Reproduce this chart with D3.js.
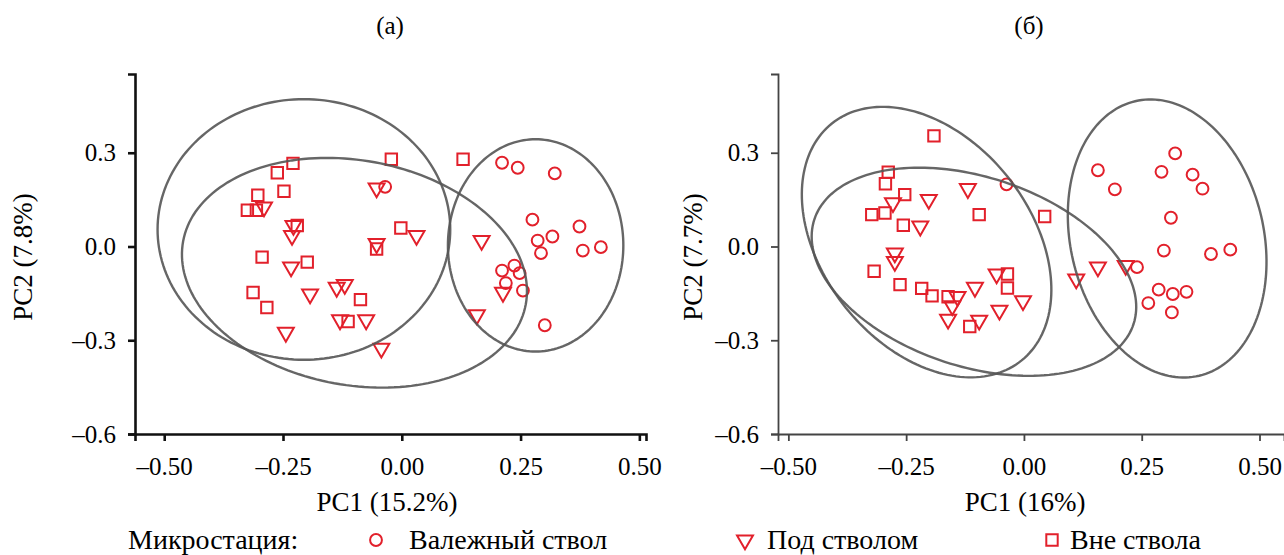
<!DOCTYPE html>
<html>
<head>
<meta charset="utf-8">
<script src="https://cdn.jsdelivr.net/npm/d3@7"></script>
<style>
  body { margin: 0; background: #fff; }
  svg text { font-family: "Liberation Serif", Tinos, "Times New Roman", "DejaVu Serif", serif !important; fill: #000; }
</style>
</head>
<body>
<div id="chart"></div>
<script>
// ---- data ----
const panelTitles = ["(а)", "(б)"];
const xTitles = ["PC1 (15.2%)", "PC1 (16%)"];
const yTitles = ["PC2 (7.8%)", "PC2 (7.7%)"];
const xTicks = [-0.5, -0.25, 0, 0.25, 0.5];
const yTicks = [-0.6, -0.3, 0, 0.3];
const groups = ["Валежный ствол", "Под стволом", "Вне ствола"];
const legendLabel = "Микростация:";

// panel (а)
const logA = [[0.211,0.268],[0.244,0.252],[0.322,0.234],[-0.035,0.191],[0.275,0.086],[0.286,0.019],
  [0.317,0.032],[0.374,0.064],[0.293,-0.021],[0.381,-0.013],[0.419,-0.002],[0.237,-0.061],
  [0.211,-0.077],[0.248,-0.085],[0.219,-0.117],[0.255,-0.141],[0.301,-0.252]];
const underA = [[-0.290,0.126],[-0.228,0.067],[-0.231,0.035],[-0.053,0.187],[0.031,0.035],[-0.053,0.009],
  [-0.233,-0.066],[-0.193,-0.152],[-0.137,-0.131],[-0.120,-0.122],[-0.130,-0.235],[-0.075,-0.235],
  [-0.244,-0.275],[-0.043,-0.326],[0.168,0.019],[0.213,-0.147],[0.158,-0.219]];
const outA = [[-0.229,0.266],[-0.262,0.236],[-0.248,0.177],[-0.303,0.164],[-0.325,0.116],[-0.306,0.116],
  [-0.022,0.279],[0.129,0.279],[-0.002,0.059],[-0.220,0.067],[-0.053,-0.008],[-0.294,-0.034],
  [-0.199,-0.050],[-0.313,-0.147],[-0.284,-0.195],[-0.087,-0.170],[-0.113,-0.240]];
// ellipses: centre and two conjugate semi-axes, data units
const ellA = [
  {cx:-0.206, cy:0.0545, ux:0.308, uy:0, vx:0, vy:0.417},
  {cx:-0.0996, cy:-0.084, ux:0.3606, uy:-0.1007, vx:-0.0425, vy:-0.3535},
  {cx:0.2817, cy:0.0035, ux:0.1846, uy:0, vx:0, vy:0.3397}
];

// panel (б)
const logB = [[-0.037,0.199],[0.157,0.244],[0.193,0.183],[0.292,0.239],[0.321,0.298],[0.358,0.230],
  [0.379,0.185],[0.312,0.092],[0.297,-0.013],[0.397,-0.024],[0.438,-0.010],[0.240,-0.066],
  [0.286,-0.138],[0.316,-0.152],[0.345,-0.145],[0.264,-0.181],[0.314,-0.211]];
const underB = [[-0.278,0.140],[-0.202,0.150],[-0.119,0.185],[-0.220,0.065],[-0.274,-0.021],[-0.274,-0.048],
  [-0.058,-0.088],[-0.104,-0.131],[-0.141,-0.160],[-0.152,-0.190],[-0.161,-0.233],[-0.095,-0.236],
  [-0.052,-0.204],[-0.002,-0.174],[0.111,-0.104],[0.157,-0.066],[0.216,-0.061]];
const outB = [[-0.191,0.354],[-0.288,0.238],[-0.294,0.201],[-0.253,0.166],[-0.323,0.102],[-0.295,0.107],
  [-0.256,0.068],[-0.095,0.102],[0.044,0.096],[-0.318,-0.079],[-0.263,-0.122],[-0.217,-0.134],
  [-0.195,-0.158],[-0.161,-0.161],[-0.035,-0.088],[-0.035,-0.133],[-0.115,-0.256]];
const ellB = [
  {cx:-0.2066, cy:0.0141, ux:0.2017, uy:-0.3786, vx:-0.1716, vy:-0.2098},
  {cx:-0.1061, cy:-0.0808, ux:0.3388, uy:-0.1672, vx:-0.0621, vy:-0.2881},
  {cx:0.304, cy:0.0257, ux:0.0680, uy:-0.4392, vx:-0.1996, vy:-0.0709}
];

// ---- layout ----
const width = 1284, height = 555;
const red = "#e2202b";
const tickFont = 25, titleFont = 27, legendFont = 28;

const svg = d3.select("#chart").append("svg")
  .attr("width", width).attr("height", height);

const panels = [
  {xDom:[-0.5615, 0.514], xRange:[135, 646], axisW:2.6, axisC:"#111", titleX:390, xTitleX:387, yTitleX:23,
   series:[logA, underA, outA], ells:ellA},
  {xDom:[-0.522, 0.552], xRange:[778, 1284], axisW:1.8, axisC:"#444", titleX:1029, xTitleX:1025, yTitleX:693,
   series:[logB, underB, outB], ells:ellB}
];

const shapes = [
  d3.symbol(d3.symbolCircle, 110),
  d3.symbol(d3.symbolTriangle, 110),
  d3.symbol(d3.symbolSquare, 130)
];
const rot = [0, 180, 0];

const fmtX = v => (v < 0 ? "–" : "") + d3.format(".2f")(Math.abs(v));
const fmtY = v => (v < 0 ? "–" : "") + d3.format(".1f")(Math.abs(v));

panels.forEach((p, i) => {
  const x = d3.scaleLinear().domain(p.xDom).range(p.xRange);
  const y = d3.scaleLinear().domain([-0.6, 0.552]).range([434, 74]);
  const g = svg.append("g");

  // points
  p.series.forEach((pts, k) => {
    g.selectAll(null).data(pts).join("path")
      .attr("d", shapes[k])
      .attr("transform", d => `translate(${x(d[0])},${y(d[1])}) rotate(${rot[k]})`)
      .attr("fill", "none")
      .attr("stroke", red)
      .attr("stroke-width", 2);
  });

  // ellipses
  const line = d3.line().curve(d3.curveLinearClosed);
  g.selectAll(".ell").data(p.ells).join("path")
    .attr("class", "ell")
    .attr("d", e => line(d3.range(0, 360, 2).map(a => {
      const t = a * Math.PI / 180;
      return [x(e.cx + e.ux * Math.cos(t) + e.vx * Math.sin(t)),
              y(e.cy + e.uy * Math.cos(t) + e.vy * Math.sin(t))];
    })))
    .attr("fill", "none")
    .attr("stroke", "#555")
    .attr("stroke-opacity", 0.9)
    .attr("stroke-width", 2.4);

  // axes
  const xAxis = g.append("g").attr("transform", "translate(0,434)")
    .call(d3.axisBottom(x).tickValues(xTicks).tickFormat(fmtX).tickSizeOuter(0).tickSize(7).tickPadding(16));
  const yAxis = g.append("g").attr("transform", `translate(${p.xRange[0]},0)`)
    .call(d3.axisLeft(y).tickValues(yTicks).tickFormat(fmtY).tickSizeOuter(0).tickSize(7).tickPadding(12));
  [xAxis, yAxis].forEach(a => {
    a.attr("font-family", null);
    a.select(".domain").attr("stroke", p.axisC).attr("stroke-width", p.axisW);
    a.selectAll(".tick line").attr("stroke", p.axisC).attr("stroke-width", p.axisW);
    a.selectAll("text").attr("font-size", tickFont).attr("fill", "#000");
  });

  // titles
  svg.append("text").attr("x", p.titleX).attr("y", 34)
    .attr("text-anchor", "middle").attr("font-size", tickFont).text(panelTitles[i]);
  svg.append("text").attr("x", p.xTitleX).attr("y", 511)
    .attr("text-anchor", "middle").attr("font-size", titleFont).text(xTitles[i]);
  svg.append("text")
    .attr("transform", `translate(${p.yTitleX + 9},257) rotate(-90)`)
    .attr("text-anchor", "middle").attr("font-size", titleFont).text(yTitles[i]);
});

// legend
const leg = svg.append("g");
leg.append("text").attr("x", 128).attr("y", 549).attr("font-size", legendFont).text(legendLabel);
const legX = [376, 745, 1052];
const legGap = [33, 22, 18];
groups.forEach((name, k) => {
  leg.append("path").attr("d", shapes[k])
    .attr("transform", `translate(${legX[k]},540) rotate(${rot[k]})`)
    .attr("fill", "none").attr("stroke", red).attr("stroke-width", 2);
  leg.append("text").attr("x", legX[k] + legGap[k]).attr("y", 549)
    .attr("font-size", legendFont).text(name);
});
</script>
</body>
</html>
